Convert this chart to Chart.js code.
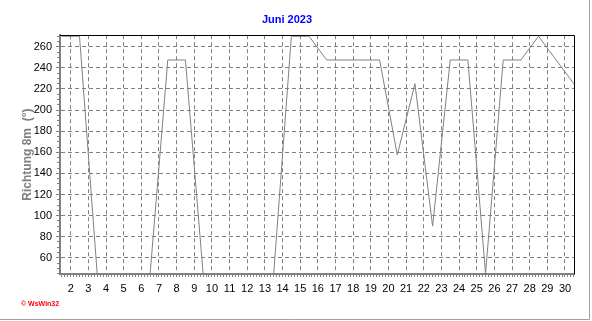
<!DOCTYPE html>
<html>
<head>
<meta charset="utf-8">
<script src="https://cdn.jsdelivr.net/npm/chart.js@4/dist/chart.umd.min.js"></script>
<style>
  html, body { margin: 0; padding: 0; background: #fff; }
  canvas { display: block; }
</style>
</head>
<body>
<canvas id="windChart" width="592" height="321"></canvas>
<script>
// Juni 2023 - daily wind direction at 8m (degrees)
const days = [1, 2, 3, 4, 5, 6, 7, 8, 9, 10, 11, 12, 13, 14, 15,
              16, 17, 18, 19, 20, 21, 22, 23, 24, 25, 26, 27, 28, 29, 30];
const direction = [270, 270, 45, 45, 45, 45, 247.5, 247.5, 45, 45, 45, 45, 45, 270, 270,
                   247.5, 247.5, 247.5, 247.5, 157.5, 225, 90, 247.5, 247.5, 45, 247.5, 247.5, 270, 247.5, 225];
const xTickLabels = [2, 3, 4, 5, 6, 7, 8, 9, 10, 11, 12, 13, 14, 15, 16,
                     17, 18, 19, 20, 21, 22, 23, 24, 25, 26, 27, 28, 29, 30];
const yTickLabels = [60, 80, 100, 120, 140, 160, 180, 200, 220, 240, 260];

Chart.defaults.font.family = '"Liberation Sans", Arial, sans-serif';
Chart.defaults.color = '#000';

// each day's value sits at noon of that day
const points = days.map((d, i) => ({ x: d + 0.5, y: direction[i] }));

const gray = '#808080';

const framePlugin = {
  id: 'frame',
  afterDraw(chart) {
    const c = chart.ctx;
    const a = chart.chartArea;
    c.save();
    // top and right edge of plot area
    c.strokeStyle = '#000';
    c.lineWidth = 1;
    c.beginPath();
    c.moveTo(a.left, Math.round(a.top) + 0.5);
    c.lineTo(Math.round(a.right) + 0.5, Math.round(a.top) + 0.5);
    c.lineTo(Math.round(a.right) + 0.5, a.bottom);
    c.stroke();
    // outer panel edge
    c.strokeStyle = '#a0a0a0';
    c.beginPath();
    c.moveTo(589.5, 0);
    c.lineTo(589.5, 319.5);
    c.lineTo(0, 319.5);
    c.stroke();
    // watermark
    c.fillStyle = '#ff0000';
    c.font = 'bold 7px "Liberation Sans", Arial, sans-serif';
    c.textBaseline = 'middle';
    c.fillText('\u00a9 WsWin32', 21, 304.5);
    c.restore();
  }
};

new Chart(document.getElementById('windChart'), {
  type: 'line',
  data: {
    datasets: [{
      label: 'Richtung 8m',
      data: points,
      borderColor: gray,
      borderWidth: 1,
      pointRadius: 0,
      tension: 0,
      fill: false
    }]
  },
  options: {
    responsive: false,
    animation: false,
    devicePixelRatio: 1,
    layout: { padding: { left: 0, right: 18, top: 0, bottom: 0 } },
    plugins: {
      legend: { display: false },
      tooltip: { enabled: false },
      title: {
        display: true,
        text: 'Juni 2023',
        color: '#0000ff',
        font: { size: 11, weight: 'bold' },
        padding: { top: 13, bottom: 9 }
      }
    },
    scales: {
      x: {
        type: 'linear',
        min: 1.394,
        max: 30.51,
        afterBuildTicks: s => {
          const t = [];
          for (let k = Math.ceil(s.min * 6); k <= Math.floor(s.max * 6); k++) t.push({ value: k / 6 });
          s.ticks = t;
        },
        afterFit: s => { s.height = 47; },
        ticks: {
          autoSkip: false,
          maxRotation: 0,
          padding: 5,
          font: { size: 11 },
          callback: v => xTickLabels.includes(v) ? String(v) : ''
        },
        grid: {
          color: ctx => (ctx.tick && xTickLabels.includes(ctx.tick.value)) ? gray : 'transparent',
          tickColor: gray,
          tickLength: 3,
          lineWidth: 1
        },
        border: { color: gray, width: 2, dash: [4, 3] }
      },
      y: {
        min: 44.6,
        max: 271,
        afterBuildTicks: s => {
          const t = [];
          for (let v = 45; v <= 270; v += 5) t.push({ value: v });
          s.ticks = t;
        },
        afterFit: s => { s.width = 60; },
        ticks: {
          autoSkip: false,
          padding: 4,
          font: { size: 11 },
          callback: v => yTickLabels.includes(v) ? String(v) : ''
        },
        grid: {
          color: ctx => (ctx.tick && yTickLabels.includes(ctx.tick.value)) ? gray : 'transparent',
          tickColor: gray,
          tickLength: 4,
          tickBorderDash: ctx => (ctx.tick && yTickLabels.includes(ctx.tick.value)) ? [] : [0, 1, 3, 10],
          lineWidth: 1
        },
        border: { color: gray, width: 2, dash: [4, 3] },
        title: {
          display: true,
          text: 'Richtung 8m  (\u00b0)',
          color: gray,
          font: { size: 12, weight: 'bold' },
          padding: { top: 20, bottom: 0 }
        }
      }
    }
  },
  plugins: [framePlugin]
});
</script>
</body>
</html>
